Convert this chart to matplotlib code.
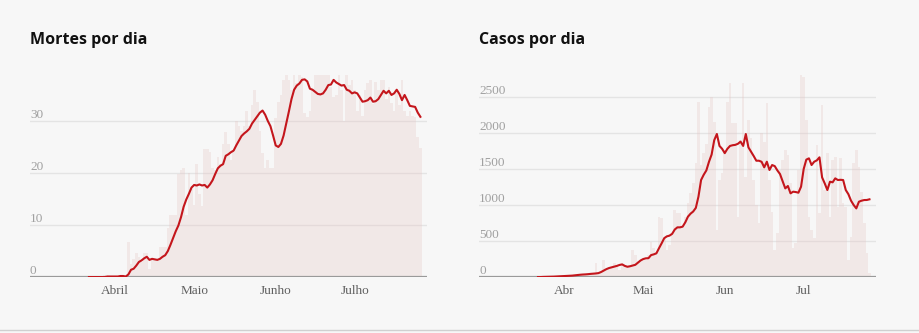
import numpy as np
import pandas as pd
import matplotlib
matplotlib.use("Agg")
import matplotlib.pyplot as plt
from matplotlib.lines import Line2D

# daily series, 22 Mar -> 26 Jul
dates = pd.date_range("2020-03-22", periods=127, freq="D")

deaths_daily = [
    0, 0, 0, 0, 0, 0, 0.4, 0, 0, 0, 0, 0, 0.3, 0, 0.2,
    6.8, 2.5, 3.5, 4.6, 3.9, 2.8, 4.6, 4.6, 1.5, 3.3, 3.3, 3.0, 5.8, 5.8, 5.8,
    9.5, 11.9, 11.9, 11.9, 19.9, 20.5, 21, 12, 20, 17, 13.8, 21.7, 16, 13.7, 24.7,
    24.7, 24, 21, 20.5, 23, 21.7, 25.6, 27.9, 25.5, 22.5, 24, 30, 29, 28, 29,
    31.9, 29, 33, 36, 33.7, 28, 23.8, 20.9, 22.5, 20.9, 20.9, 30.5, 33.7, 35, 37.9,
    38.8, 37.9, 36, 38.8, 37.2, 38.8, 38.5, 31.5, 30.8, 32, 36, 38.8, 38.8, 38.8, 38.8,
    38.8, 38.8, 36.5, 34.7, 35, 38.8, 36, 30, 38.8, 37, 37.9, 36, 32, 35, 31,
    36, 37.2, 37.9, 33.3, 37.5, 36, 37.9, 37.9, 34.2, 36.5, 33.5, 32, 36, 33, 37.9,
    32, 31, 32, 31, 30.8, 27, 24.8,
]
deaths_avg = [
    0, 0, 0, 0, 0, 0, 0, 0.1, 0.1, 0.1, 0.1, 0.1, 0.2, 0.2, 0.1,
    0.5, 1.4, 1.6, 2.2, 2.9, 3.2, 3.6, 3.9, 3.3, 3.5, 3.4, 3.3, 3.5, 3.9, 4.2,
    5.0, 6.2, 7.5, 8.8, 9.9, 11.5, 13.5, 14.9, 16.0, 17.2, 17.7, 17.6, 17.8, 17.6, 17.7,
    17.2, 17.8, 18.6, 19.8, 20.9, 21.4, 21.7, 23.3, 23.6, 24.0, 24.3, 25.3, 26.2, 27.1, 27.6,
    28.0, 28.5, 29.5, 30.2, 30.9, 31.6, 32.0, 31.2, 30.0, 29.0, 27.2, 25.3, 25.0, 25.6, 27.2,
    29.5, 31.8, 34.2, 36.0, 36.8, 37.2, 37.9, 38.0, 37.6, 36.2, 36.0, 35.6, 35.2, 35.1, 35.3,
    36.0, 36.9, 37.0, 37.9, 37.4, 37.1, 36.8, 36.9, 36.0, 35.8, 35.3, 35.5, 35.3, 34.5, 33.7,
    33.8, 34.0, 34.5, 33.7, 33.8, 34.2, 35.0, 35.8, 35.3, 35.8, 35.0, 35.3, 36.0, 35.2, 34.0,
    35.0, 34.0, 32.9, 32.8, 32.7, 31.6, 30.8,
]

cases_daily = [
    0, 0, 2, 3, 2, 5, 4, 6, 8, 10, 12, 15, 18,
    20, 25, 30, 35, 30, 40, 45, 42, 55,
    190, 40, 60, 236, 110, 120, 130, 200, 150, 97, 180, 150, 140, 160, 375, 300,
    220, 230, 250, 236, 300, 490, 400, 350,
    838, 820, 537, 375, 450, 600, 931, 884, 884, 700, 838, 1023,
    1162, 1300, 1579, 2435, 1556, 1717, 1850, 2365, 2505, 2157,
    653, 1347, 1440, 1764, 2435, 2690, 2134, 2134, 838, 1903,
    2690, 1394, 2180, 1926, 1347, 1000, 745, 2000, 1880, 2420,
    1347, 900, 375, 606, 1486, 1625, 1764, 1700, 1300, 398,
    467, 1486, 2805, 2781, 2180, 838, 653, 537, 1834, 884,
    2389, 1208, 1717, 838, 1625, 1672, 978, 1648, 1023, 978,
    238, 560, 1579, 1764, 1532, 1185, 745, 329, 60,
]
cases_avg = [
    0, 0, 2, 3, 4, 5, 6, 8, 10, 12, 14, 16, 18,
    20, 24, 28, 32, 35, 37, 40, 44, 47, 50, 55,
    70, 90, 110, 125, 135, 145, 155, 168, 176, 155, 143, 150, 160, 170, 200, 230,
    250, 260, 262, 305, 315, 329,
    400, 468, 540, 565, 575, 600, 660, 690, 690, 700, 760, 838, 880, 910, 960,
    1116, 1347, 1420, 1480, 1600, 1700, 1900, 1986, 1820, 1780,
    1720, 1780, 1820, 1830, 1835, 1850, 1880, 1820, 1986, 1800,
    1740, 1680, 1615, 1615, 1600, 1523, 1601, 1486, 1555, 1540,
    1480, 1430, 1330, 1231, 1264, 1162, 1185, 1180, 1171, 1254,
    1500, 1630, 1648, 1555, 1601, 1620, 1662, 1384, 1300, 1208,
    1324, 1315, 1370, 1347, 1350, 1347, 1208, 1150, 1060, 1000,
    953, 1046, 1060, 1069, 1070, 1079,
]

month_ticks = pd.to_datetime(["2020-04-01", "2020-05-01", "2020-06-01", "2020-07-01"])
deaths_months = ["Abril", "Maio", "Junho", "Julho"]
cases_months = ["Abr", "Mai", "Jun", "Jul"]
deaths_yticks = [0, 10, 20, 30]
cases_yticks = [0, 500, 1000, 1500, 2000, 2500]

BG = "#f7f7f7"
RED = "#c4161c"
SERIF = ["Liberation Serif", "DejaVu Serif"]

fig = plt.figure(figsize=(9.2, 3.33), dpi=100, facecolor=BG)


def panel(rect, title, daily, avg, yticks, ymax, months):
    ax = fig.add_axes(rect, facecolor=BG)
    ylab = ax.get_yaxis_transform()
    for v in yticks:
        if v:
            ax.axhline(v, color="#e4e4e4", lw=1, zorder=1)
        ax.text(0, v, str(v), transform=ylab, ha="left", va="bottom",
                fontsize=9.5, color="#a0a0a0", family=SERIF)
    ax.bar(dates, daily, width=1.0, color="#e6c6c4", alpha=0.3,
           linewidth=0, zorder=2)
    ax.plot(dates, avg, color=RED, lw=1.5, zorder=4, solid_joinstyle="round")
    ax.axhline(0, color="#9a9a9a", lw=1.6, zorder=3)
    ax.set_ylim(0, ymax)
    ax.set_xlim(dates[0] - pd.Timedelta(days=22.4),
                dates[0] + pd.Timedelta(days=128.5))
    ax.set_xticks(month_ticks)
    ax.set_xticklabels(months, family=SERIF, fontsize=9.5, color="#606060")
    ax.tick_params(axis="x", length=0, pad=6)
    ax.set_yticks([])
    for s in ax.spines.values():
        s.set_visible(False)
    fig.text(rect[0], 0.868, title, fontsize=11.5, fontweight="bold",
             family=["Open Sans", "DejaVu Sans"], color="#111111",
             ha="left", va="baseline")
    return ax


panel([0.0326, 0.168, 0.4315, 0.625], "Mortes por dia",
      deaths_daily, deaths_avg, deaths_yticks, 40, deaths_months)
panel([0.5207, 0.168, 0.4315, 0.625], "Casos por dia",
      cases_daily, cases_avg, cases_yticks, 2889, cases_months)

fig.add_artist(Line2D([0, 1], [0.009, 0.009], color="#d0d0d0", lw=1,
                      transform=fig.transFigure))

fig.savefig("out.png", dpi=100, facecolor=BG)
